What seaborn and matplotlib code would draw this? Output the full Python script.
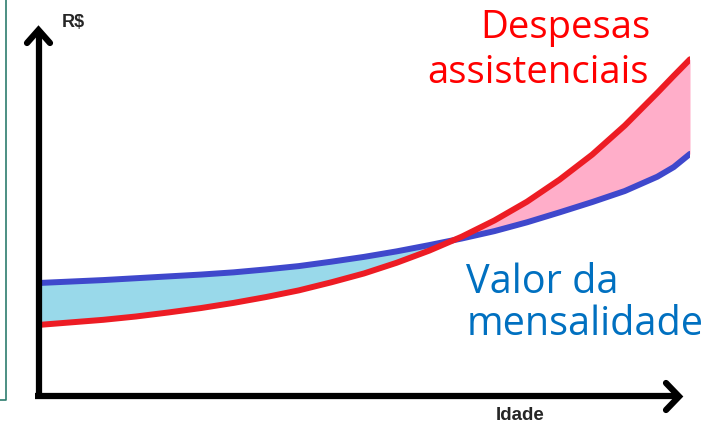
import matplotlib
matplotlib.use("Agg")
import matplotlib.pyplot as plt
import seaborn as sns
import pandas as pd

# Valores (escala arbitraria 0-100)
idade = [0, 5, 10, 15, 20, 25, 30, 35, 40, 45, 50, 55, 60, 65, 70, 75, 80,
         85, 90, 95, 97.5, 100]
despesas = [19.3, 20.0, 20.7, 21.6, 22.7, 23.9, 25.3, 26.9, 28.7, 30.9, 33.3,
            36.2, 39.5, 43.3, 47.7, 52.8, 58.8, 65.6, 73.5, 82.4, 87.0, 91.5]
mensalidade = [30.7, 31.1, 31.5, 32.0, 32.5, 33.0, 33.6, 34.4, 35.3, 36.5, 37.8,
               39.3, 41.0, 42.8, 44.8, 47.2, 49.9, 52.7, 55.7, 59.6, 62.2, 65.8]

df = pd.DataFrame({"idade": idade, "despesas": despesas, "mensalidade": mensalidade})

sns.set_style("white")

W, H = 728, 423
fig = plt.figure(figsize=(W / 100, H / 100), dpi=100)

# eixo de dados posicionado em pixels (x 38-690, y 28-396)
ax = fig.add_axes([38 / W, (H - 396) / H, (690 - 38) / W, (396 - 28) / H])
ax.fill_between(df["idade"], df["despesas"], df["mensalidade"],
                where=df["mensalidade"] >= df["despesas"], interpolate=True,
                color="#99d9ea", lw=0)
ax.fill_between(df["idade"], df["despesas"], df["mensalidade"],
                where=df["despesas"] >= df["mensalidade"], interpolate=True,
                color="#ffaec9", lw=0)
sns.lineplot(data=df, x="idade", y="mensalidade", ax=ax, color="#3f48cc",
             lw=4.3, solid_capstyle="round")
sns.lineplot(data=df, x="idade", y="despesas", ax=ax, color="#ed1c24",
             lw=4.3, solid_capstyle="round")
ax.set_xlim(0, 100)
ax.set_ylim(0, 100)
ax.axis("off")

# camada em coordenadas de pixel para setas e textos
ov = fig.add_axes([0, 0, 1, 1])
ov.set_xlim(0, W)
ov.set_ylim(H, 0)
ov.axis("off")

k = dict(color="black", lw=4.5, solid_capstyle="butt", solid_joinstyle="round")
ov.plot([38.5, 38.5], [399, 31], **k)
ov.plot([27, 38.5, 50], [43, 30, 43], color="black", lw=4.5,
        solid_capstyle="round", solid_joinstyle="miter")
ov.plot([35, 677], [396.5, 396.5], **k)
ov.plot([666, 679, 666], [383, 396.5, 410], color="black", lw=4.5,
        solid_capstyle="round", solid_joinstyle="miter")

# borda de caixa cortada a esquerda
ov.plot([6, 6, -1], [-1, 400, 400], color="#2e7d6e", lw=1.2)

fonte = ["Open Sans", "DejaVu Sans"]
ov.text(650, 38, "Despesas", color="#ff0000", fontsize=27.5, family=fonte,
        ha="right", va="baseline")
ov.text(649, 83, "assistenciais", color="#ff0000", fontsize=27.5, family=fonte,
        ha="right", va="baseline")
ov.text(466, 293, "Valor da", color="#0070c0", fontsize=28.5, family=fonte,
        ha="left", va="baseline")
ov.text(467, 335, "mensalidade", color="#0070c0", fontsize=28.5, family=fonte,
        ha="left", va="baseline")

ov.text(62, 27, "R$", fontsize=13, fontweight="bold", family="Liberation Sans",
        ha="left", va="baseline")
ov.text(520, 420, "Idade", fontsize=13.5, fontweight="bold", family="Liberation Sans",
        ha="center", va="baseline")

fig.savefig("out.png", dpi=100)
